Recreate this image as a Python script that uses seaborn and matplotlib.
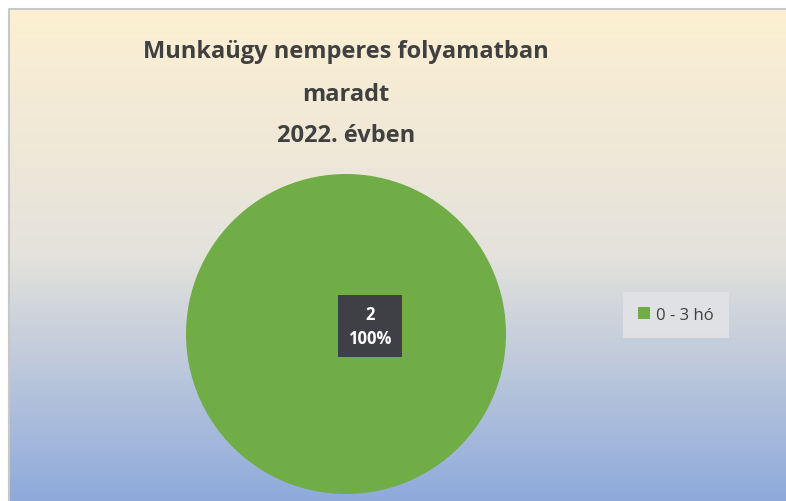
import numpy as np
import seaborn as sns
import matplotlib.pyplot as plt
from matplotlib.colors import LinearSegmentedColormap

# data
categories = ["0 - 3 hó"]
values = [2]
title_lines = ["Munkaügy nemperes folyamatban", "maradt", "2022. évben"]

sns.set_theme(style="white")
plt.rcParams['font.family'] = ['Open Sans', 'DejaVu Sans']

fig = plt.figure(figsize=(7.86, 5.02), dpi=100)
fig.patch.set_facecolor("white")

# gradient background of the chart area
bg = fig.add_axes([9 / 786, 0, 777 / 786, 492 / 502])
cmap = LinearSegmentedColormap.from_list("bg", ["#fdf0d2", "#e4e2dc", "#8eaadb"])
grad = np.linspace(0, 1, 256).reshape(-1, 1)
bg.imshow(grad, aspect="auto", cmap=cmap, extent=[0, 1, 0, 1], origin="upper")
bg.set_axis_off()
bg.plot([0, 0, 1], [0, 1, 1], color="#c8c8c8", lw=1.5, transform=bg.transAxes, clip_on=False)

# title
for y, line in zip([52, 95, 136], title_lines):
    fig.text(346 / 786, 1 - y / 502, line, ha="center", va="center",
             fontsize=17, fontweight="bold", color="#404040")

# pie
r = 160
ax = fig.add_axes([(346 - r) / 786, (502 - 335 - r) / 502, 2 * r / 786, 2 * r / 502])
colors = ["#70ad47"]
total = sum(values)
wedges, _ = ax.pie(values, colors=colors, startangle=90, counterclock=False,
                   wedgeprops=dict(linewidth=0))
ax.set_aspect("auto")
ax.set_xlim(-1, 1)
ax.set_ylim(-1, 1)

# data label
pct = values[0] / total * 100
ax.text(0.15, 0.05, f"{values[0]}\n{pct:.0f}%", ha="center", va="center",
        fontsize=12, fontweight="bold", color="white", linespacing=1.45,
        bbox=dict(boxstyle="square,pad=0.6", facecolor="#3f3f46", edgecolor="none"))

# legend
leg = fig.legend(wedges, categories, loc="center", bbox_to_anchor=(676 / 786, 1 - 316 / 502),
                 frameon=True, fontsize=12, handlelength=0.7, handleheight=0.7,
                 handletextpad=0.35, borderpad=0.3, borderaxespad=0)
leg.get_frame().set_facecolor("#e2e3e6")
leg.get_frame().set_edgecolor("none")
leg.get_frame().set_alpha(0.9)
leg.get_frame().set_boxstyle("square", pad=0.6)
for t in leg.get_texts():
    t.set_color("#404040")

fig.savefig("out.png", dpi=100, facecolor=fig.get_facecolor())
